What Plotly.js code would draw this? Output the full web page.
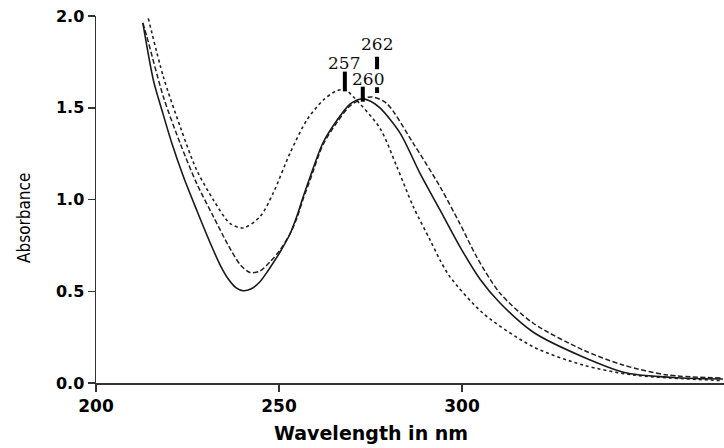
<!DOCTYPE html>
<html>
<head>
<meta charset="utf-8">
<script src="https://cdn.plot.ly/plotly-3.0.1.min.js"></script>
<style>html,body{margin:0;padding:0;background:#fff;}#chart{width:724px;height:448px;}</style>
</head>
<body>
<div id="chart"></div>
<script>
// Wavelength (nm) and absorbance for each spectrum
var solidX = [212.8, 215.7, 218.0, 220.7, 223.9, 227.5, 231.6, 234.0, 236.2, 238.2, 240.2, 242.3, 244.8, 247.5, 250.3, 253.0, 254.9, 256.6, 258.5, 262.0, 265.9, 269.4, 272.4, 274.9, 277.6, 283.1, 288.5, 294.0, 299.5, 304.9, 310.4, 319.4, 333.1, 345.1, 360.4, 371.3];
var solidY = [1.962, 1.648, 1.488, 1.308, 1.124, 0.943, 0.745, 0.640, 0.565, 0.520, 0.503, 0.512, 0.552, 0.627, 0.714, 0.812, 0.910, 1.014, 1.123, 1.308, 1.433, 1.520, 1.548, 1.537, 1.499, 1.362, 1.144, 0.943, 0.741, 0.567, 0.436, 0.278, 0.142, 0.054, 0.027, 0.022];

var dashX = [212.8, 213.9, 218.4, 223.0, 227.5, 232.1, 236.2, 239.4, 242.1, 244.8, 247.5, 250.3, 253.0, 254.9, 256.6, 258.5, 262.0, 265.9, 269.4, 272.7, 275.4, 279.4, 286.7, 294.0, 299.5, 304.0, 310.4, 319.4, 333.1, 344.0, 356.0, 371.3];
var dashY = [1.962, 1.887, 1.560, 1.306, 1.088, 0.906, 0.748, 0.645, 0.602, 0.610, 0.659, 0.725, 0.812, 0.899, 1.003, 1.106, 1.297, 1.422, 1.510, 1.548, 1.559, 1.524, 1.306, 1.070, 0.866, 0.688, 0.489, 0.327, 0.180, 0.098, 0.044, 0.027];

var dotX = [214.3, 218.4, 223.0, 227.5, 232.1, 236.6, 240.2, 244.8, 248.4, 253.0, 257.6, 262.1, 265.5, 268.0, 270.3, 277.6, 282.2, 286.7, 291.3, 294.0, 296.7, 305.7, 319.4, 333.1, 346.7, 371.3];
var dotY = [1.987, 1.669, 1.397, 1.161, 0.997, 0.870, 0.845, 0.906, 1.034, 1.252, 1.433, 1.542, 1.590, 1.599, 1.560, 1.388, 1.179, 0.961, 0.779, 0.670, 0.579, 0.381, 0.198, 0.098, 0.044, 0.013];

var peakLabels = ['257', '260', '262'];

var xTicks = [200, 250, 300];
var yTicks = [0, 0.5, 1.0, 1.5, 2.0];
var yTickText = ['0.0', '0.5', '1.0', '1.5', '2.0'];

// label / marker placement (layout, not data)
var labelPos = [[267.8, 1.744], [274.3, 1.656], [276.9, 1.847]];
var barPos = [[268.0, 1.589, 1.697], [272.9, 1.533, 1.615], [276.8, 1.710, 1.778], [276.8, 1.580, 1.612]];

var W = 724, H = 448, L = 96, R = 0, T = 16, B = 65;
function px2paperX(px) { return (px - L) / (W - L - R); }
function px2paperY(py) { return ((H - B) - py) / (H - T - B); }

var traces = [
  {x: dotX, y: dotY, mode: 'lines', line: {color: '#222', width: 1.6, dash: 'dot', shape: 'spline', smoothing: 0.8}},
  {x: dashX, y: dashY, mode: 'lines', line: {color: '#222', width: 1.5, dash: '5px,2.5px', shape: 'spline', smoothing: 0.8}},
  {x: solidX, y: solidY, mode: 'lines', line: {color: '#1a1a1a', width: 1.6, shape: 'spline', smoothing: 0.8}}
];

var annotations = peakLabels.map(function (t, i) {
  return {x: labelPos[i][0], y: labelPos[i][1], xref: 'x', yref: 'y', text: t, showarrow: false,
    font: {family: 'DejaVu Serif, Liberation Serif, serif', size: 17, color: '#111'}, xanchor: 'center', yanchor: 'middle'};
});
annotations.push({x: px2paperX(371), y: px2paperY(433), xref: 'paper', yref: 'paper', text: '<b>Wavelength in nm</b>', showarrow: false,
  font: {family: 'DejaVu Sans, Liberation Sans, sans-serif', size: 19, color: '#000'}, xanchor: 'center', yanchor: 'middle'});
annotations.push({x: px2paperX(24), y: px2paperY(218), xref: 'paper', yref: 'paper', text: 'Absorbance', showarrow: false, textangle: -90,
  font: {family: 'Liberation Sans Narrow, DejaVu Sans Condensed, Liberation Sans, sans-serif', size: 17, color: '#000', weight: 500}, xanchor: 'center', yanchor: 'middle'});

var shapes = barPos.map(function (b) {
  return {type: 'line', xref: 'x', yref: 'y', x0: b[0], x1: b[0], y0: b[1], y1: b[2], line: {color: '#000', width: 4}};
});

var tickFont = {family: 'DejaVu Sans, Liberation Sans, sans-serif', size: 17, color: '#000', weight: 'bold'};
var layout = {
  width: W, height: H,
  margin: {l: L, r: R, t: T, b: B, pad: 0},
  paper_bgcolor: '#fff', plot_bgcolor: '#fff',
  showlegend: false,
  xaxis: {range: [200, 371.6], tickvals: xTicks, ticktext: xTicks.map(String), showgrid: false, zeroline: false,
    showline: true, linecolor: '#333', linewidth: 1.5, ticks: 'outside', ticklen: 7, tickwidth: 1.5, tickcolor: '#333',
    tickfont: tickFont},
  yaxis: {range: [0, 2.0], tickvals: yTicks, ticktext: yTickText, showgrid: false, zeroline: false,
    showline: true, linecolor: '#333', linewidth: 1.5, ticks: 'outside', ticklen: 7, tickwidth: 1.5, tickcolor: '#333',
    tickfont: {family: tickFont.family, size: 16, color: '#000', weight: 'bold'}},
  annotations: annotations,
  shapes: shapes
};

Plotly.newPlot('chart', traces, layout, {displayModeBar: false, staticPlot: true});
</script>
</body>
</html>
